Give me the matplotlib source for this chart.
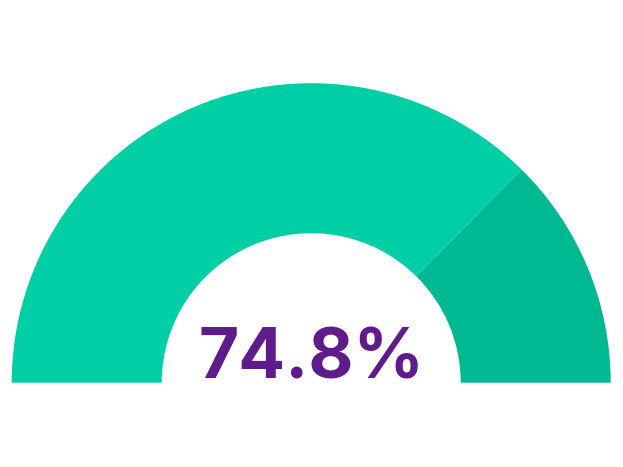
import matplotlib
matplotlib.use('Agg')
import matplotlib.pyplot as plt
from matplotlib.patches import Wedge

# gauge data
value = 74.8
max_value = 100.0
label = '74.8%'

fill_color = '#00CFA6'
rest_color = '#00B892'
text_color = '#5F1A8B'

fig = plt.figure(figsize=(6.23, 4.67), dpi=100)
ax = fig.add_axes([0, 0, 1, 1])
ax.set_xlim(0, 623)
ax.set_ylim(0, 467)
ax.set_aspect('equal')
ax.axis('off')

cx, cy = 311.2, 84.3
r_out, r_in = 299.5, 149.5

# angle of the split (180 -> 0 degrees, left to right)
split = 180.0 - 180.0 * value / max_value
ax.add_patch(Wedge((cx, cy), r_out, split, 180, width=r_out - r_in,
                   facecolor=fill_color, edgecolor='none'))
ax.add_patch(Wedge((cx, cy), r_out, 0, split, width=r_out - r_in,
                   facecolor=rest_color, edgecolor='none'))

ax.text(cx, 88.3, label, ha='center', va='baseline', color=text_color,
        fontsize=50, fontweight='bold', family=['Inter', 'DejaVu Sans'])

fig.savefig('out.png', dpi=100, facecolor='white')
